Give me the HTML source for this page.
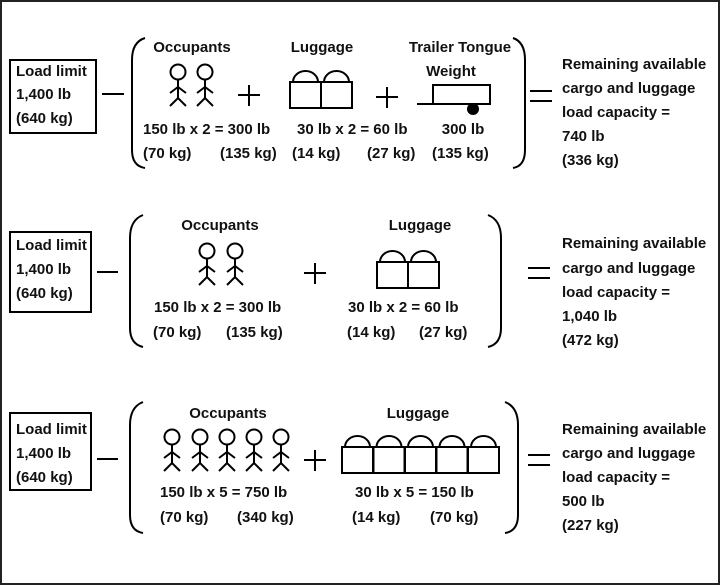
<!DOCTYPE html>
<html><head><meta charset="utf-8"><style>
html,body{margin:0;padding:0;background:#fff}
svg{display:block}
text{font-family:"Liberation Sans",sans-serif;font-size:15px;font-weight:bold;fill:#111}
</style></head><body>
<svg width="720" height="585" viewBox="0 0 720 585" xmlns="http://www.w3.org/2000/svg">
<defs>
<g id="fig" stroke="#000" stroke-width="2" fill="none">
<circle cx="0" cy="0" r="7.5" fill="#fff"/>
<line x1="0" y1="7.5" x2="0" y2="27"/>
<polyline points="-8,21 0,15 8,21"/>
<polyline points="-8,34 0,26 8,34"/>
</g>
<g id="bag" stroke="#000" stroke-width="2" fill="#fff">
<path d="M3,0 A12.5,11 0 0 1 28,0" />
<rect x="0" y="0" width="31" height="26"/>
</g>
</defs>
<rect x="1" y="1" width="718" height="583" fill="none" stroke="#222" stroke-width="2"/>

<!-- Panel 1 -->
<rect x="10" y="60" width="86" height="73" fill="#fff" stroke="#000" stroke-width="2"/>
<text x="16" y="76">Load limit</text>
<text x="16" y="99">1,400 lb</text>
<text x="16" y="123">(640 kg)</text>
<line x1="102" y1="94" x2="124" y2="94" stroke="#000" stroke-width="2"/>
<path d="M145,38 Q132,42 132,60 L132,150 Q132,166 145,168" fill="none" stroke="#000" stroke-width="2"/>
<path d="M513,38 Q525,42 525,60 L525,150 Q525,166 513,168" fill="none" stroke="#000" stroke-width="2"/>
<text x="192" y="52" text-anchor="middle">Occupants</text>
<use href="#fig" x="178" y="72"/><use href="#fig" x="205" y="72"/>
<path d="M238,95 h22 M249,85 v21" stroke="#000" stroke-width="2"/>
<text x="322" y="52" text-anchor="middle">Luggage</text>
<use href="#bag" x="290" y="82"/><use href="#bag" x="321" y="82"/>
<path d="M376,97 h22 M387,87 v21" stroke="#000" stroke-width="2"/>
<text x="460" y="52" text-anchor="middle">Trailer Tongue</text>
<text x="451" y="76" text-anchor="middle">Weight</text>
<rect x="433" y="85" width="57" height="19" fill="none" stroke="#000" stroke-width="2"/>
<line x1="417" y1="104" x2="480" y2="104" stroke="#000" stroke-width="2"/>
<circle cx="473" cy="109" r="6" fill="#000"/>
<text x="143" y="134">150 lb x 2 = 300 lb</text>
<text x="297" y="134">30 lb x 2 = 60 lb</text>
<text x="463" y="134" text-anchor="middle">300 lb</text>
<text x="143" y="158">(70 kg)</text>
<text x="220" y="158">(135 kg)</text>
<text x="292" y="158">(14 kg)</text>
<text x="367" y="158">(27 kg)</text>
<text x="432" y="158">(135 kg)</text>
<path d="M530,91 h22 M530,101 h22" stroke="#000" stroke-width="2"/>
<text x="562" y="69">Remaining available</text>
<text x="562" y="93">cargo and luggage</text>
<text x="562" y="117">load capacity =</text>
<text x="562" y="141">740 lb</text>
<text x="562" y="165">(336 kg)</text>

<!-- Panel 2 -->
<rect x="10" y="232" width="81" height="80" fill="#fff" stroke="#000" stroke-width="2"/>
<text x="16" y="250">Load limit</text>
<text x="16" y="274">1,400 lb</text>
<text x="16" y="298">(640 kg)</text>
<line x1="97" y1="272" x2="118" y2="272" stroke="#000" stroke-width="2"/>
<path d="M143,215 Q130,220 130,238 L130,328 Q130,344 143,347" fill="none" stroke="#000" stroke-width="2"/>
<path d="M488,215 Q501,220 501,238 L501,328 Q501,344 488,347" fill="none" stroke="#000" stroke-width="2"/>
<text x="220" y="230" text-anchor="middle">Occupants</text>
<use href="#fig" x="207" y="251"/><use href="#fig" x="235" y="251"/>
<path d="M304,273 h22 M315,263 v21" stroke="#000" stroke-width="2"/>
<text x="420" y="230" text-anchor="middle">Luggage</text>
<use href="#bag" x="377" y="262"/><use href="#bag" x="408" y="262"/>
<text x="154" y="312">150 lb x 2 = 300 lb</text>
<text x="348" y="312">30 lb x 2 = 60 lb</text>
<text x="153" y="337">(70 kg)</text>
<text x="226" y="337">(135 kg)</text>
<text x="347" y="337">(14 kg)</text>
<text x="419" y="337">(27 kg)</text>
<path d="M528,268 h22 M528,278 h22" stroke="#000" stroke-width="2"/>
<text x="562" y="248">Remaining available</text>
<text x="562" y="273">cargo and luggage</text>
<text x="562" y="297">load capacity =</text>
<text x="562" y="321">1,040 lb</text>
<text x="562" y="345">(472 kg)</text>

<!-- Panel 3 -->
<rect x="10" y="413" width="81" height="77" fill="#fff" stroke="#000" stroke-width="2"/>
<text x="16" y="434">Load limit</text>
<text x="16" y="458">1,400 lb</text>
<text x="16" y="482">(640 kg)</text>
<line x1="97" y1="459" x2="118" y2="459" stroke="#000" stroke-width="2"/>
<path d="M143,402 Q130,407 130,425 L130,515 Q130,531 143,533" fill="none" stroke="#000" stroke-width="2"/>
<path d="M505,402 Q518,407 518,425 L518,515 Q518,531 505,533" fill="none" stroke="#000" stroke-width="2"/>
<text x="228" y="418" text-anchor="middle">Occupants</text>
<use href="#fig" x="172" y="437"/><use href="#fig" x="200" y="437"/><use href="#fig" x="227" y="437"/><use href="#fig" x="254" y="437"/><use href="#fig" x="281" y="437"/>
<path d="M304,460 h22 M315,450 v21" stroke="#000" stroke-width="2"/>
<text x="418" y="418" text-anchor="middle">Luggage</text>
<use href="#bag" x="342" y="447"/><use href="#bag" x="373.5" y="447"/><use href="#bag" x="405" y="447"/><use href="#bag" x="436.5" y="447"/><use href="#bag" x="468" y="447"/>
<text x="160" y="497">150 lb x 5 = 750 lb</text>
<text x="355" y="497">30 lb x 5 = 150 lb</text>
<text x="160" y="522">(70 kg)</text>
<text x="237" y="522">(340 kg)</text>
<text x="352" y="522">(14 kg)</text>
<text x="430" y="522">(70 kg)</text>
<path d="M528,455 h22 M528,465 h22" stroke="#000" stroke-width="2"/>
<text x="562" y="434">Remaining available</text>
<text x="562" y="458">cargo and luggage</text>
<text x="562" y="482">load capacity =</text>
<text x="562" y="506">500 lb</text>
<text x="562" y="530">(227 kg)</text>
</svg>
</body></html>
